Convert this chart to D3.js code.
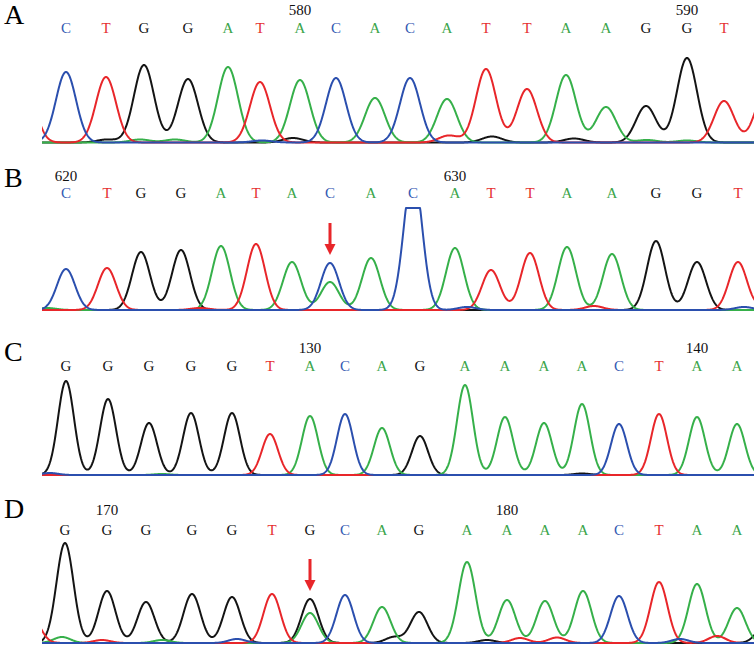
<!DOCTYPE html>
<html>
<head>
<meta charset="utf-8">
<script src="https://cdn.jsdelivr.net/npm/d3@7.9.0/dist/d3.min.js"></script>
<style>
  body { margin: 0; background: #fff; }
  svg { display: block; }
</style>
</head>
<body>
<svg id="chart" width="754" height="648"></svg>
<script>
// --- data: base calls, call positions (scan units), peak heights (signal units)
const basesA = ["C","T","G","G","A","T","A","C","A","C","A","T","T","A","A","G","G","T"];
const callsA = [24,64,102,146,186,218,258,294,333,368,405,444,485,524,564,604,645,682];
const heightsA = [705,655,775,635,755,605,625,645,445,645,435,735,535,675,355,365,845,415];
const extraA = [["T",-17,600],["T",723,500],["G",65,30],["A",98,30],["A",133,30],["C",220,20],
  ["G",251,45],["T",407,70],["G",450,60],["G",532,40],["A",605,25],["A",645,20]];
const firstA = 574;

const basesB = ["C","T","G","G","A","T","A","C","A","C","A","T","T","A","A","G","G","T"];
const callsB = [24,65,99,139,179,214,250,288,329,371,413,449,488,525,570,614,655,696];
const heightsB = [410,420,580,600,640,660,480,470,520,1400,620,400,570,630,560,690,480,480];
const extraB = [["A",288,280],["T",158,20],["C",425,30],["T",552,40],["C",702,30],["T",735,300],["A",5,20]];
const firstB = 620;

const basesC = ["G","G","G","G","G","T","A","C","A","G","A","A","A","A","C","T","A","A"];
const callsC = [24,66,107,149,190,228,268,303,340,378,423,463,502,540,577,617,655,695];
const heightsC = [940,760,520,620,620,410,590,610,470,390,900,580,520,710,510,610,580,510];
const extraC = [["C",8,20],["G",540,15],["A",120,10]];
const firstC = 124;

const basesD = ["G","G","G","G","G","T","G","C","A","G","A","A","A","A","C","T","A","A"];
const callsD = [23,65,104,150,190,230,268,303,340,377,425,465,503,541,577,617,655,695];
const heightsD = [1000,520,410,490,460,490,440,480,360,310,810,430,420,520,470,610,590,350];
const extraD = [["A",268,300],["T",-10,250],["A",20,60],["T",60,30],["A",120,30],["C",195,40],
  ["G",352,60],["G",445,30],["T",478,50],["T",515,55],["C",638,40],["T",675,70],["G",722,150]];
const firstD = 169;

const panels = [
  { id: "A", bases: basesA, calls: callsA, heights: heightsA, extra: extraA, first: firstA, sigma: 10, arrows: [] },
  { id: "B", bases: basesB, calls: callsB, heights: heightsB, extra: extraB, first: firstB, sigma: 9, arrows: [7], clip: 1020 },
  { id: "C", bases: basesC, calls: callsC, heights: heightsC, extra: extraC, first: firstC, sigma: 8, arrows: [] },
  { id: "D", bases: basesD, calls: callsD, heights: heightsD, extra: extraD, first: firstD, sigma: 8.5, arrows: [6] }
];

// vertical layout of each panel (label / number / letter baselines, trace baseline)
const layout = [
  { label: 24, num: 15, letter: 33, base: 142.5 },
  { label: 187, num: 181, letter: 198, base: 310 },
  { label: 361, num: 353, letter: 371, base: 475 },
  { label: 518, num: 515, letter: 535, base: 643 }
];

const traceColor = { A: "#36b04a", C: "#2b4fae", G: "#141414", T: "#e8262a" };
const letterColor = { A: "#3aa54a", C: "#3459b3", G: "#111111", T: "#e53030" };
const drawOrder = ["G", "A", "T", "C"];

const svg = d3.select("#chart");
const x = d3.scaleLinear().domain([0, 712]).range([42, 754]);

svg.append("clipPath").attr("id", "plotclip")
  .append("rect").attr("x", 42).attr("y", 0).attr("width", 712).attr("height", 648);

const serif = "'Liberation Serif', 'DejaVu Serif', serif";

panels.forEach((p, i) => {
  const L = layout[i];
  const y = d3.scaleLinear().domain([0, 1000]).range([L.base, L.base - 100]);
  const g = svg.append("g");

  g.append("text")
    .attr("x", 4).attr("y", L.label)
    .attr("font-family", serif).attr("font-size", 28)
    .text(p.id);

  g.selectAll("text.base")
    .data(p.bases)
    .join("text")
    .attr("class", "base")
    .attr("x", (d, j) => x(p.calls[j]))
    .attr("y", L.letter)
    .attr("text-anchor", "middle")
    .attr("font-family", serif).attr("font-size", 15)
    .attr("fill", d => letterColor[d])
    .text(d => d);

  g.selectAll("text.num")
    .data(p.calls.map((c, j) => ({ c, n: p.first + j })).filter(d => d.n % 10 === 0))
    .join("text")
    .attr("class", "num")
    .attr("x", d => x(d.c))
    .attr("y", L.num)
    .attr("text-anchor", "middle")
    .attr("font-family", serif).attr("font-size", 15)
    .attr("fill", "#111")
    .text(d => d.n);

  // peaks per channel
  const peaks = p.bases.map((b, j) => ({ ch: b, pos: p.calls[j], h: p.heights[j] }))
    .concat(p.extra.map(e => ({ ch: e[0], pos: e[1], h: e[2] })));
  const samples = d3.range(-4, 716, 0.5);
  const maxV = p.clip || Infinity;

  const traces = g.append("g").attr("clip-path", "url(#plotclip)");
  drawOrder.forEach(ch => {
    const pk = peaks.filter(d => d.ch === ch);
    const pts = samples.map(s => {
      let v = 0;
      pk.forEach(d => { v += d.h * Math.exp(-((s - d.pos) ** 2) / (2 * p.sigma * p.sigma)); });
      return [s, Math.min(v, maxV)];
    });
    traces.append("path")
      .datum(pts)
      .attr("fill", "none")
      .attr("stroke", traceColor[ch])
      .attr("stroke-width", 2)
      .attr("stroke-linejoin", "round")
      .attr("d", d3.line().x(d => x(d[0])).y(d => y(d[1])));
  });

  // arrows above selected peaks
  p.arrows.forEach(j => {
    const ax = x(p.calls[j]);
    const tip = y(p.heights[j]) - 8;
    g.append("rect")
      .attr("x", ax - 1.5).attr("y", tip - 32)
      .attr("width", 3).attr("height", 24)
      .attr("fill", "#e8262a");
    g.append("path")
      .attr("d", `M${ax - 5.5},${tip - 11}L${ax + 5.5},${tip - 11}L${ax},${tip}Z`)
      .attr("fill", "#e8262a");
  });
});
</script>
</body>
</html>
